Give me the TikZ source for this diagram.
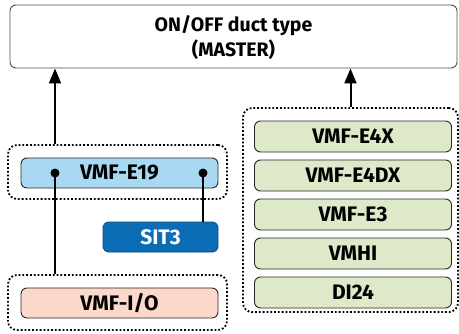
\documentclass[tikz,border=0pt]{standalone}
\usepackage{fontspec}
\setmainfont{Fira Sans}
\usetikzlibrary{arrows.meta}

\definecolor{boxblue}{HTML}{A9D8F2}
\definecolor{darkblue}{HTML}{0A6DB5}
\definecolor{boxpink}{HTML}{FBD8C9}
\definecolor{boxgreen}{HTML}{DEE9C9}

\tikzset{
  unit/.style={draw=black!85,line width=0.9pt,rounded corners=6pt,minimum width=197pt,minimum height=30pt,inner sep=0pt,font=\fontsize{21}{21}\selectfont\bfseries},
  group/.style={draw,dotted,line width=1.8pt,rounded corners=9pt},
  link/.style={line width=2pt},
  up/.style={link,-{Triangle[length=15pt,width=12pt]}}
}

\begin{document}
\begin{tikzpicture}[x=1pt,y=-1pt]
\useasboundingbox (0,0) rectangle (459,333);
\node (master) [draw=black!70,line width=0.9pt,rounded corners=6pt,minimum width=447pt,minimum height=63pt,inner sep=0pt,text depth=0pt,align=center,font=\fontsize{19.5}{25}\selectfont\bfseries] at (233.5,36.5) {ON/OFF duct type\\(MASTER)};
\node (grpE19) [group,minimum width=219pt,minimum height=54pt] at (117.5,172) {};
\node (grpIO) [group,minimum width=219pt,minimum height=55pt] at (117.5,302.5) {};
\node (grpR) [group,minimum width=215pt,minimum height=204pt] at (350.5,210) {};
\node (e19) [unit,fill=boxblue] at (119.5,173) {VMF-E19};
\node (sit3) [unit,fill=darkblue,draw=darkblue!70!black,text=white,minimum width=115pt] at (160.5,237) {SIT3};
\node (io) [unit,fill=boxpink] at (119.5,303) {VMF-I/O};
\node (e4x) [unit,fill=boxgreen,minimum height=31pt] at (353,136.5) {VMF-E4X};
\node (e4dx) [unit,fill=boxgreen,minimum height=31pt] at (353,175.5) {VMF-E4DX};
\node (e3) [unit,fill=boxgreen,minimum height=31pt] at (353,214.5) {VMF-E3};
\node (vmhi) [unit,fill=boxgreen,minimum height=31pt] at (353,253.5) {VMHI};
\node (di24) [unit,fill=boxgreen,minimum height=31pt] at (353,292.5) {DI24};
\coordinate (dotL) at (55,173);
\coordinate (dotR) at (203,173);
\draw[up] (grpE19.north -| dotL) -- (master.south -| dotL);
\draw[up] (grpR.north) -- (master.south -| grpR.north);
\draw[link] (dotL) -- (grpIO.north -| dotL);
\draw[link] (dotR) -- (sit3.north -| dotR);
\fill (dotL) circle (4.5pt);
\fill (dotR) circle (4.5pt);
\end{tikzpicture}
\end{document}
